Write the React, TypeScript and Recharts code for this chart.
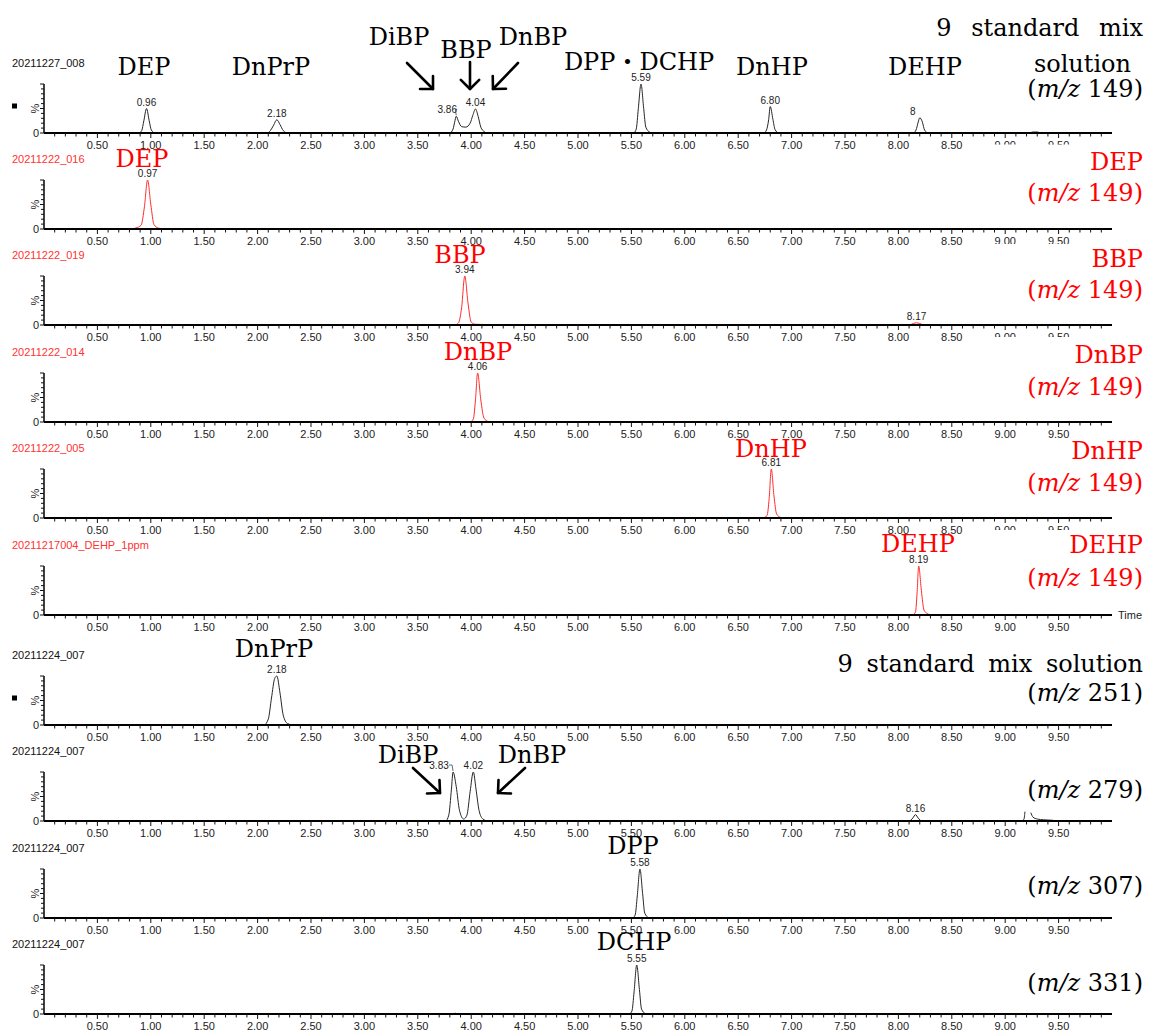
import React from "react";
import { LineChart, Line, XAxis, YAxis } from "recharts";

type Pt = [number, number | null];
type Tag = { t: number; text: string; dx?: number };

const TIME_LABELS = [
  "0.50", "1.00", "1.50", "2.00", "2.50", "3.00", "3.50", "4.00", "4.50", "5.00",
  "5.50", "6.00", "6.50", "7.00", "7.50", "8.00", "8.50", "9.00", "9.50",
];

const SAMPLE_NAMES = [
  "20211227_008",
  "20211222_016",
  "20211222_019",
  "20211222_014",
  "20211222_005",
  "20211217004_DEHP_1ppm",
  "20211224_007",
  "20211224_007",
  "20211224_007",
  "20211224_007",
];

// 9 standard mix solution, m/z 149 (time in min, intensity in %)
const mix149: Pt[] = [
  [0.5, 0], [0.89, 0], [0.915, 5], [0.935, 25], [0.96, 50], [0.985, 25], [1.005, 6], [1.04, 0],
  [2.09, 0], [2.12, 5], [2.15, 16], [2.18, 27], [2.21, 17], [2.24, 5], [2.28, 0],
  [3.8, 0], [3.83, 8], [3.845, 22], [3.86, 34], [3.88, 24], [3.91, 13], [3.95, 12], [3.99, 20],
  [4.015, 36], [4.04, 49], [4.065, 34], [4.09, 12], [4.12, 3], [4.15, 0],
  [5.52, 0], [5.545, 8], [5.565, 50], [5.59, 100], [5.615, 50], [5.635, 12], [5.67, 2], [5.7, 0],
  [6.74, 0], [6.765, 6], [6.785, 27], [6.8, 54], [6.825, 28], [6.845, 7], [6.88, 0],
  [8.14, 0], [8.165, 6], [8.185, 22], [8.2, 31], [8.225, 22], [8.245, 6], [8.28, 0],
  [9.22, 0], [9.26, 2], [9.3, 2], [9.34, 0], [9.95, 0],
];
const mix149Peaks: Tag[] = [
  { t: 0.96, text: "0.96" }, { t: 2.18, text: "2.18" }, { t: 3.86, text: "3.86", dx: -9 },
  { t: 4.04, text: "4.04" }, { t: 5.59, text: "5.59" }, { t: 6.8, text: "6.80" },
  { t: 8.2, text: "8", dx: -7 },
];

// single standards, m/z 149
const dep149: Pt[] = [
  [0, 0], [0.8, 0], [0.86, 2], [0.91, 8], [0.94, 45], [0.97, 100], [1.0, 50], [1.03, 9],
  [1.07, 2], [1.13, 0], [8.15, 0], [8.2, 1], [8.25, 0], [9.95, 0],
];
const dep149Peaks: Tag[] = [{ t: 0.97, text: "0.97" }];

const bbp149: Pt[] = [
  [0, 0], [2.2, 0], [2.23, 1], [2.26, 0], [3.84, 0], [3.88, 4], [3.91, 35], [3.94, 100],
  [3.97, 45], [4.0, 6], [4.04, 1.5], [4.15, 0.8], [4.25, 0], [7.5, 0], [7.55, 1], [7.6, 0],
  [7.7, 0.8], [7.75, 0], [8.1, 0], [8.14, 3], [8.17, 4.5], [8.2, 3], [8.24, 0],
  [9.2, 0], [9.24, 1], [9.28, 0], [9.95, 0],
];
const bbp149Peaks: Tag[] = [{ t: 3.94, text: "3.94" }, { t: 8.17, text: "8.17" }];

const dnbp149: Pt[] = [
  [0, 0], [3.87, 0], [3.9, 1], [3.93, 0], [3.99, 0], [4.02, 6], [4.04, 45], [4.06, 100],
  [4.09, 45], [4.12, 8], [4.16, 1], [4.2, 0], [8.15, 0], [8.19, 1.2], [8.23, 0], [9.95, 0],
];
const dnbp149Peaks: Tag[] = [{ t: 4.06, text: "4.06" }];

const dnhp149: Pt[] = [
  [2.0, 0], [6.73, 0], [6.77, 5], [6.79, 40], [6.81, 100], [6.835, 45], [6.86, 8], [6.9, 1],
  [6.95, 0], [8.17, 0], [8.21, 1], [8.25, 0], [9.95, 0],
];
const dnhp149Peaks: Tag[] = [{ t: 6.81, text: "6.81" }];

const dehp149: Pt[] = [
  [2.0, 0], [4.03, 0], [4.06, 0.8], [4.09, 0], [8.13, 0], [8.16, 6], [8.175, 45], [8.19, 100],
  [8.215, 50], [8.24, 10], [8.27, 3], [8.31, 0], [9.26, 0], [9.29, 1], [9.32, 0], [9.95, 0],
];
const dehp149Peaks: Tag[] = [{ t: 8.19, text: "8.19" }];

// 9 standard mix solution, other fragment ions
const mix251: Pt[] = [
  [0.5, 0], [2.06, 0], [2.1, 12], [2.13, 55], [2.16, 95], [2.18, 100], [2.21, 65], [2.24, 20],
  [2.28, 3], [2.33, 0], [5.52, 0], [5.55, 1], [5.58, 0], [9.95, 0],
];
const mix251Peaks: Tag[] = [{ t: 2.18, text: "2.18" }];

const mix279: Pt[] = [
  [0.5, 0], [3.76, 0], [3.79, 12], [3.815, 65], [3.83, 100], [3.86, 70], [3.89, 22], [3.93, 4],
  [3.96, 12], [3.99, 60], [4.02, 100], [4.045, 65], [4.075, 20], [4.11, 4], [4.16, 0],
  [8.1, 0], [8.135, 6], [8.16, 13], [8.185, 6], [8.22, 0],
  [9.15, 0], [9.175, 3], [9.185, 19], [9.2, null], [9.24, 17], [9.26, 8], [9.3, 4], [9.36, 2.5],
  [9.44, 1.5], [9.5, 0], [9.95, 0],
];
const mix279Peaks: Tag[] = [
  { t: 3.83, text: "3.83", dx: -14 }, { t: 4.02, text: "4.02" }, { t: 8.16, text: "8.16" },
];

const mix307: Pt[] = [
  [0.5, 0], [5.51, 0], [5.535, 6], [5.555, 45], [5.58, 100], [5.605, 50], [5.625, 10],
  [5.66, 1], [5.69, 0], [9.95, 0],
];
const mix307Peaks: Tag[] = [{ t: 5.58, text: "5.58" }];

const mix331: Pt[] = [
  [0.5, 0], [3.82, 0], [3.85, 1.5], [3.88, 0], [5.48, 0], [5.505, 6], [5.525, 45], [5.55, 100],
  [5.575, 50], [5.595, 10], [5.63, 1], [5.66, 0], [7.42, 0], [7.45, 1.5], [7.48, 0], [9.95, 0],
];
const mix331Peaks: Tag[] = [{ t: 5.55, text: "5.55" }];

const W = 1149;
const H = 1030;
const PLOT_H = 49;
const TOP_PAD = 20;
const AXIS_H = 20;
const SERIF = "'DejaVu Serif', 'Noto Sans CJK JP', serif";
const SANS = "'Liberation Sans', Arial, sans-serif";
const RED = "#ff0000";
const RED_TRACE = "#ff2b2b";
const INK_TRACE = "#262626";

const MINOR_TICKS = Array.from({ length: 99 }, (_, i) => (i + 1) / 10);
const PCT_TICKS = [0, 10, 20, 30, 40, 50, 60, 70, 80, 90, 100];

type PanelDef = { pts: Pt[]; tags: Tag[]; red: boolean; base: number; marker?: boolean };

const PANELS: PanelDef[] = [
  { pts: mix149, tags: mix149Peaks, red: false, base: 132.5, marker: true },
  { pts: dep149, tags: dep149Peaks, red: true, base: 228.7 },
  { pts: bbp149, tags: bbp149Peaks, red: true, base: 325 },
  { pts: dnbp149, tags: dnbp149Peaks, red: true, base: 421.5 },
  { pts: dnhp149, tags: dnhp149Peaks, red: true, base: 518.3 },
  { pts: dehp149, tags: dehp149Peaks, red: true, base: 614.5 },
  { pts: mix251, tags: mix251Peaks, red: false, base: 724.5, marker: true },
  { pts: mix279, tags: mix279Peaks, red: false, base: 821 },
  { pts: mix307, tags: mix307Peaks, red: false, base: 917.5 },
  { pts: mix331, tags: mix331Peaks, red: false, base: 1014 },
];

// compound names over the peaks
const PEAK_NOTES = [
  { text: "DEP", x: 144, y: 75, red: false },
  { text: "DnPrP", x: 271, y: 75, red: false },
  { text: "DiBP", x: 399, y: 45, red: false },
  { text: "BBP", x: 466, y: 58, red: false },
  { text: "DnBP", x: 533, y: 45, red: false },
  { text: "DPP・DCHP", x: 639, y: 70, red: false },
  { text: "DnHP", x: 772, y: 75, red: false },
  { text: "DEHP", x: 925, y: 75, red: false },
  { text: "DEP", x: 142, y: 167, red: true },
  { text: "BBP", x: 460, y: 263, red: true },
  { text: "DnBP", x: 478, y: 360, red: true },
  { text: "DnHP", x: 771, y: 457, red: true },
  { text: "DEHP", x: 918, y: 552, red: true },
  { text: "DnPrP", x: 274, y: 657, red: false },
  { text: "DiBP", x: 408, y: 763, red: false },
  { text: "DnBP", x: 532, y: 763, red: false },
  { text: "DPP", x: 633, y: 854, red: false },
  { text: "DCHP", x: 634, y: 950, red: false },
];

const ARROWS = [
  [407, 63, 433, 89],
  [470, 62, 470, 89],
  [518, 63, 493, 89],
  [413, 768, 440, 793],
  [525, 768, 498, 793],
];

type NoteLine = { y: number; text?: string; mz?: string; end?: number; ws?: number };
const SIDE_NOTES: { red: boolean; box: [number, number]; lines: NoteLine[] }[] = [
  { red: false, box: [0, 104], lines: [{ y: 36, text: "9 standard mix", ws: 12 }, { y: 72, text: "solution", end: 1131 }, { y: 97, mz: "149" }] },
  { red: true, box: [144.5, 64], lines: [{ y: 170, text: "DEP" }, { y: 201, mz: "149" }] },
  { red: true, box: [244, 62], lines: [{ y: 267, text: "BBP" }, { y: 298, mz: "149" }] },
  { red: true, box: [337, 66], lines: [{ y: 363, text: "DnBP" }, { y: 395, mz: "149" }] },
  { red: true, box: [438, 62], lines: [{ y: 459, text: "DnHP" }, { y: 491, mz: "149" }] },
  { red: true, box: [530, 65], lines: [{ y: 553, text: "DEHP" }, { y: 586, mz: "149" }] },
  { red: false, box: [646, 62], lines: [{ y: 672, text: "9 standard mix solution", ws: 6 }, { y: 701, mz: "251" }] },
  { red: false, box: [775, 32], lines: [{ y: 798, mz: "279" }] },
  { red: false, box: [871, 32], lines: [{ y: 894, mz: "307" }] },
  { red: false, box: [968, 32], lines: [{ y: 991, mz: "331" }] },
];

function TimeTick({ x, y, payload }: any) {
  const tenth = Math.round(payload.value * 10);
  const major = tenth % 5 === 0;
  const label = major ? TIME_LABELS[tenth / 5 - 1] : null;
  return (
    <g>
      <line x1={x} x2={x} y1={y} y2={y + (major ? 5 : 3.5)} stroke="#111" strokeWidth={1} />
      {label && (
        <text x={x} y={y + 15.5} textAnchor="middle" fontSize={11} fill="#222" fontFamily={SANS}>
          {label}
        </text>
      )}
    </g>
  );
}

function PctTick({ x, y, payload }: any) {
  const v = payload.value;
  return (
    <g>
      <line x1={x - (v % 50 === 0 ? 4 : 3)} x2={x} y1={y} y2={y} stroke="#111" strokeWidth={1} />
      {v === 0 && (
        <text x={x - 8} y={y + 4} textAnchor="middle" fontSize={11} fill="#222" fontFamily={SANS}>
          0
        </text>
      )}
      {v === 50 && (
        <text transform={`translate(${x - 9},${y}) rotate(-90)`} y={4} textAnchor="middle" fontSize={11} fill="#222" fontFamily={SANS}>
          %
        </text>
      )}
    </g>
  );
}

// retention time written over each apex
const peakTag = (tags: Tag[]) => (props: any) => {
  const { cx, cy, payload, index } = props;
  const tag = tags.find((g) => g.t === payload.t);
  if (!tag || cy == null) return <g key={`n${index}`} />;
  const dx = tag.dx ?? 0;
  const lx = cx + dx;
  return (
    <g key={`t${index}`}>
      <text x={lx} y={cy - 3} textAnchor="middle" fontSize={10} fill="#222" fontFamily={SANS}>
        {tag.text}
      </text>
      {dx < 0 && tag.text.length > 1 && (
        <polyline points={`${lx + 10},${cy - 7} ${cx - 1},${cy - 7} ${cx},${cy - 1}`} fill="none" stroke="#444" strokeWidth={0.8} />
      )}
    </g>
  );
};

function Panel({ p }: { p: PanelDef }) {
  const rows = p.pts.map(([t, v]) => ({ t, v }));
  return (
    <div style={{ position: "absolute", left: 0, top: p.base - PLOT_H - TOP_PAD }}>
      <LineChart width={W} height={TOP_PAD + PLOT_H + AXIS_H} data={rows} margin={{ top: TOP_PAD, right: 37, bottom: 0, left: 0 }}>
        <XAxis
          dataKey="t"
          type="number"
          domain={[0, 10]}
          ticks={MINOR_TICKS}
          interval={0}
          tickLine={false}
          tickSize={0}
          tickMargin={0}
          tick={(props: any) => <TimeTick {...props} />}
          axisLine={{ stroke: "#000", strokeWidth: 2 }}
          height={AXIS_H}
        />
        <YAxis
          type="number"
          domain={[0, 100]}
          ticks={PCT_TICKS}
          interval={0}
          width={44}
          tickLine={false}
          tickSize={0}
          tickMargin={0}
          tick={(props: any) => <PctTick {...props} />}
          axisLine={{ stroke: "#000", strokeWidth: 1.5 }}
        />
        <Line
          dataKey="v"
          type="monotone"
          stroke={p.red ? RED_TRACE : INK_TRACE}
          strokeWidth={1}
          dot={peakTag(p.tags)}
          activeDot={false}
          isAnimationActive={false}
          connectNulls={false}
        />
      </LineChart>
    </div>
  );
}

function Arrow({ a }: { a: number[] }) {
  const [x1, y1, x2, y2] = a;
  const ang = Math.atan2(y2 - y1, x2 - x1);
  const L = 13;
  const s = Math.PI / 4;
  const p1 = `${x2 - L * Math.cos(ang - s)},${y2 - L * Math.sin(ang - s)}`;
  const p2 = `${x2 - L * Math.cos(ang + s)},${y2 - L * Math.sin(ang + s)}`;
  return (
    <g stroke="#000" strokeWidth={2.6} fill="none" strokeLinecap="round" strokeLinejoin="round">
      <line x1={x1} y1={y1} x2={x2} y2={y2} />
      <polyline points={`${p1} ${x2},${y2} ${p2}`} />
    </g>
  );
}

export default function App() {
  return (
    <div style={{ position: "relative", width: W, height: H, background: "#fff", overflow: "hidden" }}>
      <style>{"body{margin:0}"}</style>
      {PANELS.map((p, i) => (
        <Panel key={i} p={p} />
      ))}
      <svg width={W} height={H} style={{ position: "absolute", left: 0, top: 0 }}>
        {SIDE_NOTES.map((n, i) => (
          <rect key={`b${i}`} x={975} y={n.box[0]} width={W - 975} height={n.box[1]} fill="#fff" />
        ))}
        {PANELS.map((p, i) => (
          <g key={`s${i}`}>
            <text x={12} y={p.base - 66} fontSize={11} fill={p.red ? "#ff3333" : "#111"} fontFamily={SANS}>
              {SAMPLE_NAMES[i]}
            </text>
            {p.marker && <rect x={12} y={p.base - 29} width={5} height={5} fill="#000" />}
          </g>
        ))}
        <text x={1118} y={619} fontSize={11} fill="#222" fontFamily={SANS}>
          Time
        </text>
        {PEAK_NOTES.map((n, i) => (
          <text key={`p${i}`} x={n.x} y={n.y} textAnchor="middle" fontSize={24} fill={n.red ? RED : "#000"} fontFamily={SERIF}>
            {n.text}
          </text>
        ))}
        {ARROWS.map((a, i) => (
          <Arrow key={`a${i}`} a={a} />
        ))}
        {SIDE_NOTES.map((n, i) =>
          n.lines.map((l, j) => (
            <text
              key={`r${i}-${j}`}
              x={l.end ?? 1143}
              y={l.y}
              textAnchor="end"
              fontSize={24}
              fill={n.red ? RED : "#000"}
              fontFamily={SERIF}
              style={l.ws ? { wordSpacing: l.ws } : undefined}
            >
              {l.mz ? (
                <>
                  (<tspan fontStyle="italic">m/z</tspan>
                  {" " + l.mz + ")"}
                </>
              ) : (
                l.text
              )}
            </text>
          ))
        )}
      </svg>
    </div>
  );
}
